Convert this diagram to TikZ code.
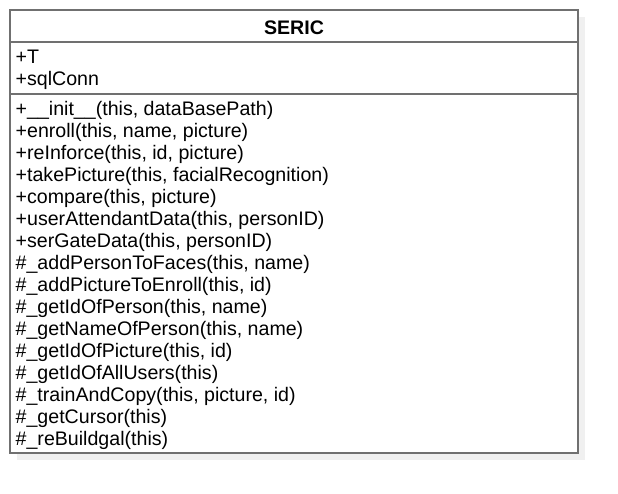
\documentclass[tikz,border=0pt]{standalone}
\usepackage{fontspec}
\setmainfont{Liberation Sans}
\begin{document}
\begin{tikzpicture}[x=1pt,y=-1pt,
  classframe/.style={draw={rgb,255:red,112;green,112;blue,112}, line width=1.2pt},
  classshadow/.style={fill={rgb,255:red,240;green,240;blue,240}, draw=none},
  member/.style={anchor=base west, inner sep=0pt, font=\fontsize{19.6}{22}\selectfont},
  classname/.style={anchor=base, inner sep=0pt, font=\fontsize{19.6}{22}\selectfont\bfseries}]
  \useasboundingbox (0,0) rectangle (618,493);

  % class box with its drop shadow
  \fill[classshadow] (17,17) rectangle (585,460);
  \coordinate (nw) at (10,10);
  \coordinate (se) at (578,453);
  \fill[white] (nw) rectangle (se);
  \coordinate (sepA west) at (10,42);
  \coordinate (sepA east) at (578,42);
  \coordinate (sepB west) at (10,94);
  \coordinate (sepB east) at (578,94);
  \draw[classframe] (sepA west) -- (sepA east);
  \draw[classframe] (sepB west) -- (sepB east);
  \draw[classframe] (nw) rectangle (se);

  % name compartment
  \node[classname] (title) at (294,34) {SERIC};

  % attributes
  \node[member] (attrT) at (15.5,63) {+T};
  \node[member] (attrConn) at (15.5,85) {+sqlConn};

  % operations
  \foreach \txt [count=\i from 0] in {
      {+\_\_init\_\_(this, dataBasePath)},
      {+enroll(this, name, picture)},
      {+reInforce(this, id, picture)},
      {+takePicture(this, facialRecognition)},
      {+compare(this, picture)},
      {+userAttendantData(this, personID)},
      {+serGateData(this, personID)},
      {\#\_addPersonToFaces(this, name)},
      {\#\_addPictureToEnroll(this, id)},
      {\#\_getIdOfPerson(this, name)},
      {\#\_getNameOfPerson(this, name)},
      {\#\_getIdOfPicture(this, id)},
      {\#\_getIdOfAllUsers(this)},
      {\#\_trainAndCopy(this, picture, id)},
      {\#\_getCursor(this)},
      {\#\_reBuildgal(this)}}
    \node[member] (op\i) at (15.5,115+22*\i) {\txt};
\end{tikzpicture}
\end{document}
